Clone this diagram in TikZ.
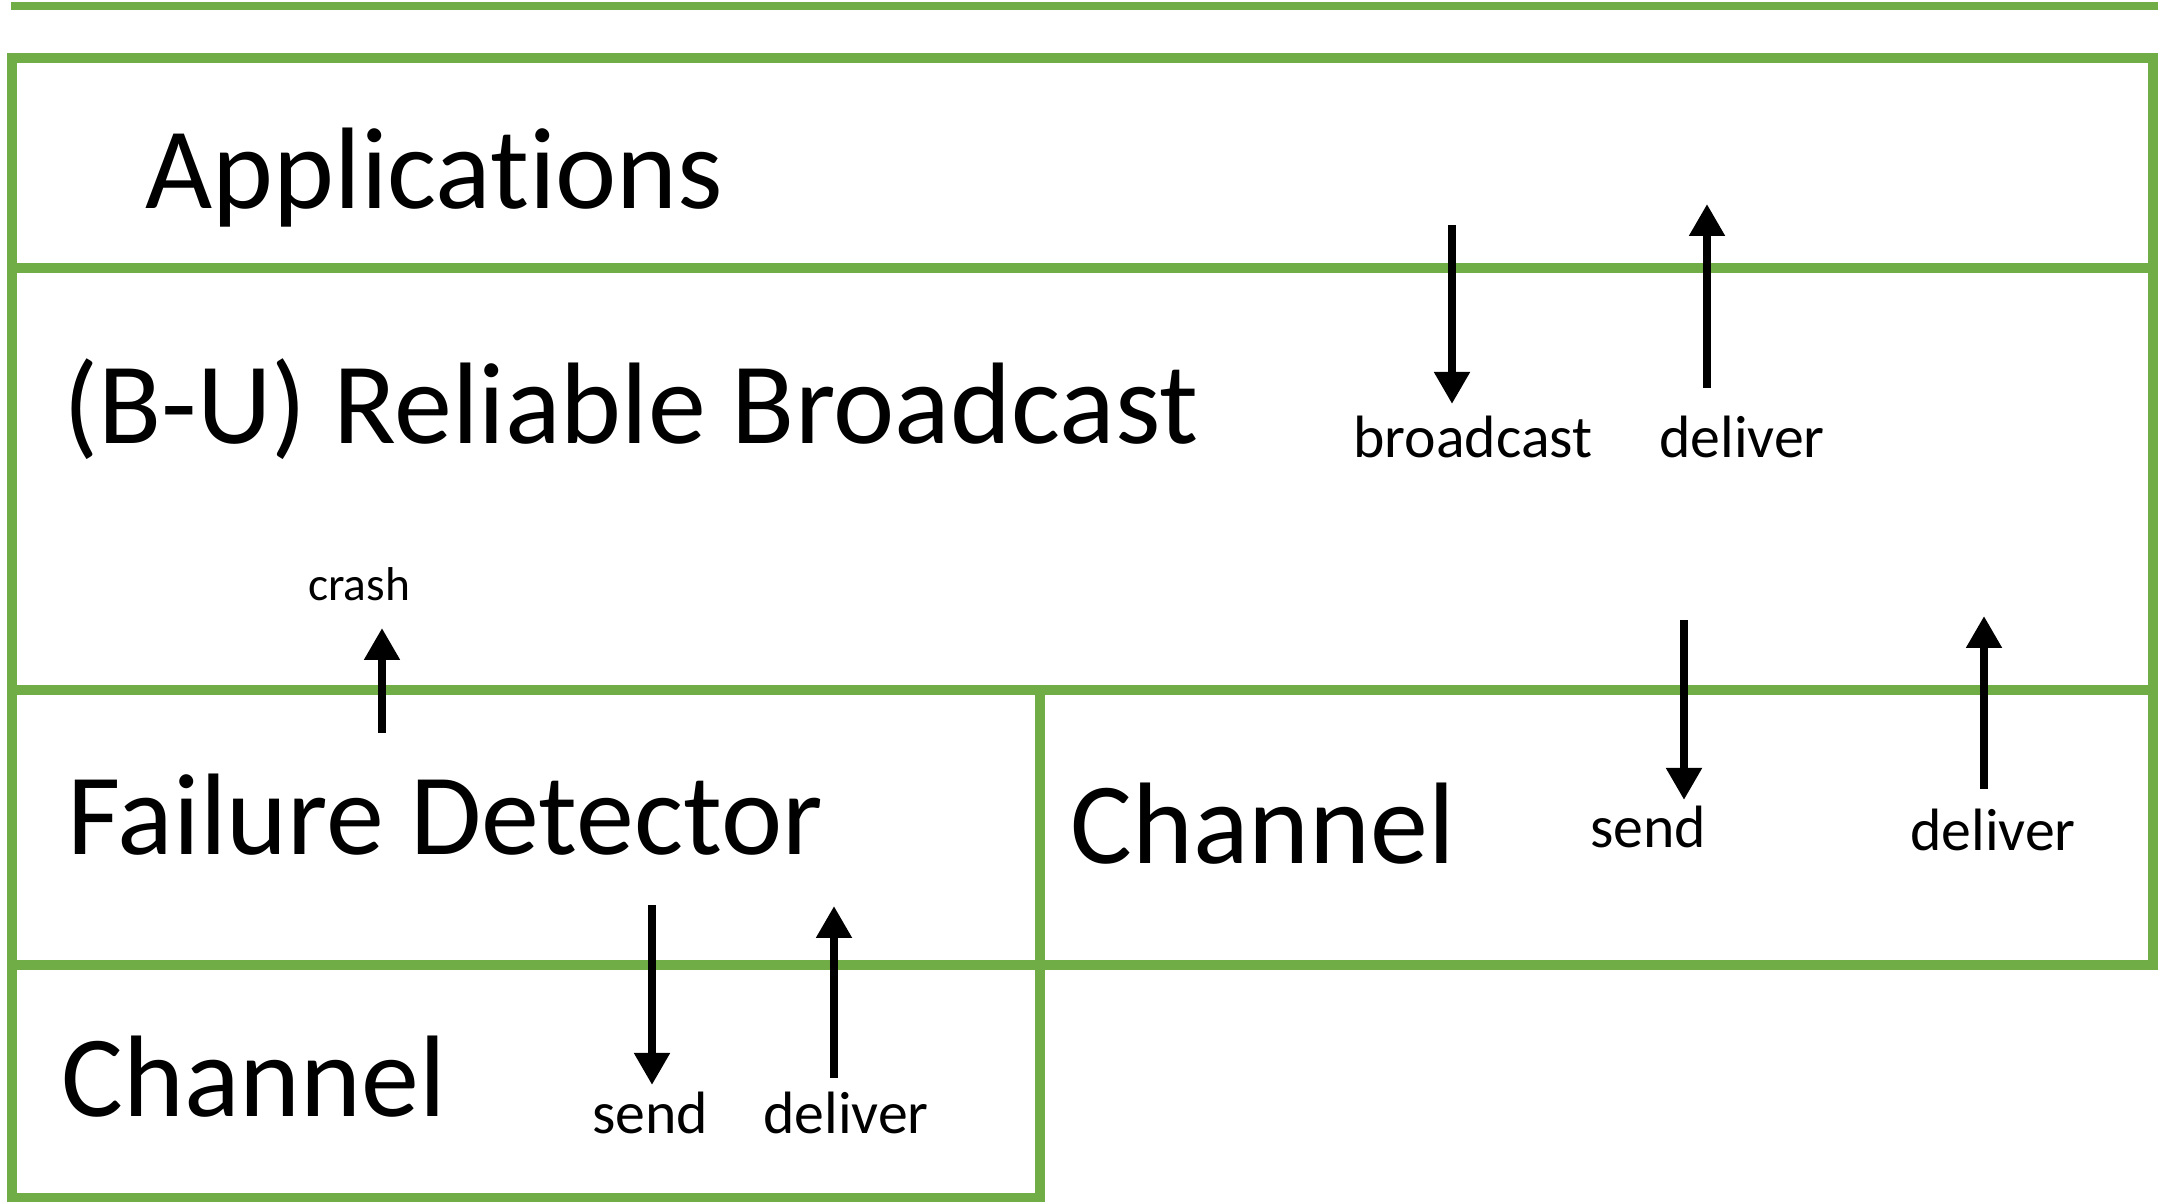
\documentclass[tikz,border=0pt]{standalone}
\usepackage{fontspec}
\setmainfont{Carlito}[Ligatures=NoCommon]
\usetikzlibrary{arrows.meta}
\begin{document}
\begin{tikzpicture}[
        layer/.style={draw=layergreen, line width=2.6pt},
        flow/.style={-{Triangle[width=0.34cm,length=0.32cm]}, line width=0.085cm},
        big/.style={anchor=base west, inner sep=0pt, font=\fontsize{33}{40}\selectfont},
        small/.style={anchor=base, inner sep=0pt, font=\fontsize{17}{20}\selectfont}]
\definecolor{layergreen}{RGB}{112,173,71}
\useasboundingbox (0,0) rectangle (21.62,12.02);
\draw[layer, line width=2.2pt] (0.11,11.96) -- (21.58,11.96);
\draw[layer] (0.12,0.04) -- (0.12,11.44) -- (21.53,11.44) -- (21.53,2.37) -- (10.40,2.37) -- (10.40,0.04) -- cycle;
\draw[layer] (0.12,9.34) -- (21.53,9.34);
\draw[layer] (0.12,5.12) -- (21.53,5.12);
\draw[layer] (10.40,5.12) -- (10.40,2.37);
\draw[layer] (0.12,2.37) -- (10.40,2.37);
\node[big] (app) at (1.45,9.93) {Applications};
\node[big] (rb) at (0.63,7.58) {(B-U) Reliable Broadcast};
\node[big] (fd) at (0.67,3.47) {Failure Detector};
\node[big] (chleft) at (0.61,0.85) {Channel};
\node[big] (chright) at (10.70,3.38) {Channel};
\node[small, font=\fontsize{13.5}{16}\selectfont] (crash) at (3.59,6.01) {crash};
\node[small] (bcast) at (14.73,7.44) {broadcast};
\node[small] (rbdel) at (17.42,7.44) {deliver};
\node[small] (rsend) at (16.48,3.54) {send};
\node[small] (rdel) at (19.93,3.51) {deliver};
\node[small] (lsend) at (6.50,0.68) {send};
\node[small] (ldel) at (8.46,0.68) {deliver};
\coordinate (bcast-a) at (14.52,9.77);
\coordinate (bcast-b) at (14.52,7.98);
\coordinate (rbdel-a) at (17.07,8.14);
\coordinate (rbdel-b) at (17.07,9.98);
\coordinate (crash-a) at (3.82,4.69);
\coordinate (crash-b) at (3.82,5.74);
\coordinate (rsend-a) at (16.84,5.82);
\coordinate (rsend-b) at (16.84,4.02);
\coordinate (rdel-a) at (19.84,4.13);
\coordinate (rdel-b) at (19.84,5.86);
\coordinate (lsend-a) at (6.52,2.97);
\coordinate (lsend-b) at (6.52,1.17);
\coordinate (ldel-a) at (8.34,1.24);
\coordinate (ldel-b) at (8.34,2.96);
\draw[flow] (bcast-a) -- (bcast-b);
\draw[flow] (rbdel-a) -- (rbdel-b);
\draw[flow] (crash-a) -- (crash-b);
\draw[flow] (rsend-a) -- (rsend-b);
\draw[flow] (rdel-a) -- (rdel-b);
\draw[flow] (lsend-a) -- (lsend-b);
\draw[flow] (ldel-a) -- (ldel-b);
\end{tikzpicture}
\end{document}
